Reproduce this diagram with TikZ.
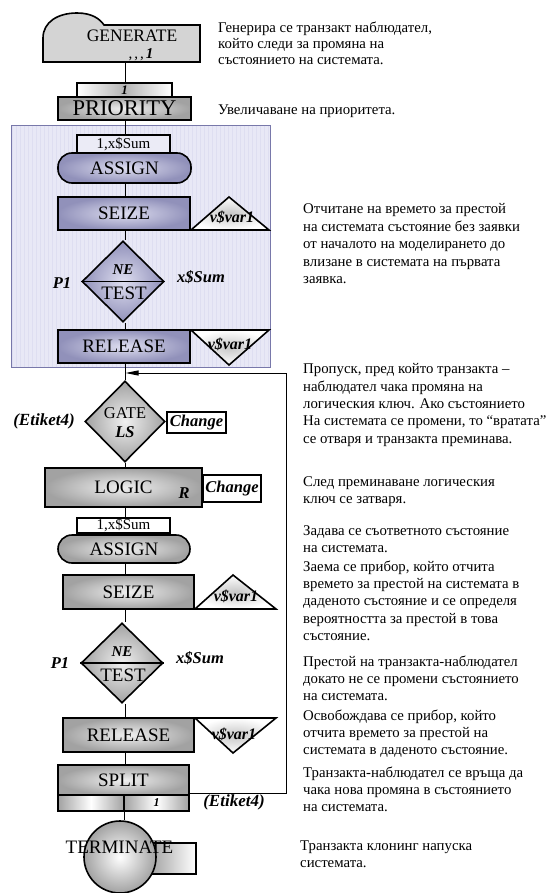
\documentclass[tikz,border=0pt]{standalone}
\usepackage{fontspec}
\setmainfont{Liberation Serif}
\usetikzlibrary{shapes.geometric,arrows.meta}
\definecolor{bluefill}{RGB}{232,232,246}
\definecolor{bluegrid}{RGB}{222,222,241}
\definecolor{blueedge}{RGB}{120,120,170}
\definecolor{bluedark}{RGB}{145,145,186}
\definecolor{bluelight}{RGB}{222,222,240}
\definecolor{graydark}{RGB}{162,162,162}
\definecolor{graylight}{RGB}{240,240,240}
\definecolor{genfill}{RGB}{212,212,212}
\tikzset{
  box/.style={draw, line width=1.6pt, inner sep=0pt, anchor=center},
  graybox/.style={box, inner color=graylight, outer color=graydark},
  bluebox/.style={box, inner color=bluelight, outer color=bluedark},
  whitebox/.style={box, line width=1.3pt, fill=white},
  dia/.style={diamond, draw, line width=1.6pt, inner sep=0pt, minimum width=82pt, minimum height=81pt},
  big/.style={font=\fontsize{19}{19}\selectfont},
  bi/.style={inner sep=0pt, font=\fontsize{16.5}{16.5}\selectfont\bfseries\itshape},
  vlbl/.style={inner sep=0pt, font=\fontsize{16}{16}\selectfont\bfseries\itshape},
  smalllbl/.style={font=\fontsize{15}{15}\selectfont},
  desc/.style={anchor=north west, inner sep=0pt, align=left, font=\fontsize{14.8}{17.3}\selectfont},
  conn/.style={line width=1pt},
  tri/.style={draw, line width=1.6pt, inner color=graydark!60, outer color=white},
}
\begin{document}
\begin{tikzpicture}[x=1pt,y=-1pt]
\useasboundingbox (0,0) rectangle (553,893);

% blue region
\fill[bluefill] (11,126) rectangle (270,367);
\draw[bluegrid, line width=0.4pt, step=4] (11,126) grid (270,367);
\draw[blueedge, line width=1pt] (11,126) rectangle (270,367);

% GENERATE
\draw[line width=1.6pt, fill=genfill] (43,62) -- (43,38) .. controls (43,22) and (58,13) .. (77,13)
  .. controls (92,13) and (100,19) .. (104,25) -- (200,25) -- (200,62) -- cycle;
\node[inner sep=0pt, font=\fontsize{17.5}{17.5}\selectfont] (gen) at (132,36) {GENERATE};
\node[inner sep=0pt, font=\fontsize{15}{15}\selectfont] (genv) at (141,55) {,\kern2pt,\kern2pt,\kern2pt\textbf{\textit{1}}};
\coordinate (genB) at (125,62);

% 1 box and PRIORITY
\node[box, line width=1.3pt, left color=white, right color=white, middle color=graydark!80, minimum width=95pt, minimum height=14pt, font=\fontsize{13}{13}\selectfont\bfseries\itshape] (one) at (124.5,90) {1};
\node[graybox, line width=2pt, minimum width=133pt, minimum height=23pt, font=\fontsize{22.5}{22.5}\selectfont] (prio) at (124.5,108.5) {PRIORITY};

% first group (in blue region)
\node[box, line width=1.3pt, fill=bluelight!60, minimum width=93pt, minimum height=18pt, smalllbl] (sum1) at (123.5,144) {1,x\$Sum};
\node[bluebox, rounded corners=14pt, minimum width=133pt, minimum height=30pt, big] (as1) at (124.5,168) {ASSIGN};
\node[bluebox, minimum width=132pt, minimum height=33pt, big] (se1) at (124,213.5) {SEIZE};
\draw[tri] (191,230) -- (229,197) -- (269,230) -- cycle;
\node[vlbl] (v1) at (232,217) {v\$var1};
\node[dia, inner color=bluelight, outer color=bluedark] (t1) at (123,281.5) {};
\draw[line width=1.3pt] (t1.west) -- (t1.east);
\node[inner sep=0pt, font=\fontsize{15}{15}\selectfont\bfseries\itshape] (ne1) at (123,270) {NE};
\node[inner sep=0pt, big] (tt1) at (124,293) {TEST};
\node[bi] (p1a) at (62,283) {P1};
\node[bi] (xs1) at (201,277) {x\$Sum};
\node[bluebox, minimum width=132pt, minimum height=33pt, big] (re1) at (124,346.5) {RELEASE};
\draw[tri] (191,330) -- (269,330) -- (229,365) -- cycle;
\node[vlbl] (v2) at (230,344) {v\$var1};

% GATE
\node[dia, minimum width=80pt, inner color=graylight, outer color=graydark] (gate) at (125,421.5) {};
\node[inner sep=0pt, font=\fontsize{16.5}{16.5}\selectfont] (gateT) at (125,413) {GATE};
\node[bi] (ls) at (125,432) {LS};
\node[bi, font=\fontsize{17}{17}\selectfont\bfseries\itshape] (et1) at (44,421) {(Etiket4)};
\node[whitebox, minimum width=59pt, minimum height=21pt, font=\fontsize{16.5}{16.5}\selectfont\bfseries\itshape] (ch1) at (196.5,422.5) {Change};

% LOGIC
\node[graybox, minimum width=157pt, minimum height=39pt, big] (logic) at (123.5,487.5) {LOGIC};
\node[bi] (r) at (184,493) {R};
\node[whitebox, minimum width=58pt, minimum height=27pt, font=\fontsize{16.5}{16.5}\selectfont\bfseries\itshape] (ch2) at (232,488.5) {Change};

% second group
\node[box, line width=1.3pt, fill=white, minimum width=93pt, minimum height=15pt, smalllbl] (sum2) at (123.5,525.5) {1,x\$Sum};
\node[graybox, rounded corners=14pt, minimum width=132pt, minimum height=28pt, big] (as2) at (124,549) {ASSIGN};
\node[graybox, minimum width=131pt, minimum height=34pt, big] (se2) at (128.5,592) {SEIZE};
\draw[tri] (195,609) -- (233,575) -- (276,609) -- cycle;
\node[vlbl] (v3) at (236,596) {v\$var1};
\node[dia, minimum height=80pt, inner color=graylight, outer color=graydark] (t2) at (122,663) {};
\draw[line width=1.3pt] (t2.west) -- (t2.east);
\node[inner sep=0pt, font=\fontsize{15}{15}\selectfont\bfseries\itshape] (ne2) at (122,652) {NE};
\node[inner sep=0pt, big] (tt2) at (123,675) {TEST};
\node[bi] (p1b) at (60,663) {P1};
\node[bi] (xs2) at (200,658) {x\$Sum};
\node[graybox, minimum width=131pt, minimum height=34pt, big] (re2) at (128.5,735) {RELEASE};
\draw[tri] (195,718) -- (276,718) -- (233,753) -- cycle;
\node[vlbl] (v4) at (234,734) {v\$var1};

% SPLIT
\node[graybox, minimum width=131pt, minimum height=30pt, big] (split) at (123.5,780) {SPLIT};
\node[box, line width=1.6pt, left color=graydark, right color=graydark, middle color=white, minimum width=66pt, minimum height=16pt] (sa) at (91,803) {};
\node[box, line width=1.6pt, left color=graydark, right color=graydark, middle color=white, minimum width=65pt, minimum height=16pt, font=\fontsize{12}{12}\selectfont\bfseries\itshape] (sb) at (156.5,803) {1};
\node[bi, font=\fontsize{17}{17}\selectfont\bfseries\itshape] (et2) at (234,802) {(Etiket4)};
\coordinate (retS) at (189,793);
\coordinate (retR) at (286,793);
\coordinate (retT) at (286,373);
\coordinate (arrE) at (125.5,373);

% TERMINATE
\draw[line width=1.6pt, left color=graydark, right color=white] (150,843) rectangle (196,874);
\node[circle, draw, line width=1.6pt, minimum size=72pt, inner sep=0pt, inner color=white, outer color=graydark] (term) at (120,857) {};
\node[inner sep=0pt, big] (termT) at (119.5,847) {TERMINATE};

% connectors
\draw[conn] (genB) -- (genB |- one.north);
\draw[conn] (125,120) -- (125,135);
\draw[conn] (as1.south -| 125,0) -- (se1.north -| 125,0);
\draw[conn] (125,230) -- (t1.north -| 125,0);
\draw[conn] (t1.south -| 125,0) -- (re1.north -| 125,0);
\draw[conn] (re1.south -| 125,0) -- (gate.north);
\draw[conn] (gate.south) -- (logic.north -| 125,0);
\draw[conn] (logic.south -| 125,0) -- (sum2.north -| 125,0);
\draw[conn] (as2.south -| 125,0) -- (se2.north -| 125,0);
\draw[conn] (se2.south -| 125,0) -- (t2.north -| 125,0);
\draw[conn] (t2.south -| 125,0) -- (re2.north -| 125,0);
\draw[conn] (re2.south -| 125,0) -- (split.north -| 125,0);
\draw[conn] (124,811) -- (term.north -| 124,0);
\draw[conn, -{Triangle[length=13pt,width=5pt]}] (retS) -- (retR) -- (retT) -- (arrE);

% descriptions
\node[desc, font=\fontsize{14.8}{16}\selectfont] (d1) at (218,21.5) {Генерира се транзакт наблюдател,\\който следи за промяна на\\състоянието на системата.};
\node[desc] (d2) at (218,104.5) {Увеличаване на приоритета.};
\node[desc, font=\fontsize{14.8}{17.5}\selectfont] (d3) at (303,203.5) {Отчитане на времето за престой\\на системата състояние без заявки\\от началото на моделирането до\\влизане в системата на първата\\заявка.};
\node[desc] (d4) at (303,363.5) {Пропуск, пред който транзакта –\\наблюдател чака промяна на\\логическия ключ. Ако състоянието\\На системата се промени, то “вратата”\\се отваря и транзакта преминава.};
\node[desc] (d5) at (303,476.5) {След преминаване логическия\\ключ се затваря.};
\node[desc] (d6) at (303,525.5) {Задава се съответното състояние\\на системата.};
\node[desc] (d7) at (303,560.5) {Заема се прибор, който отчита\\времето за престой на системата в\\даденото състояние и се определя\\вероятността за престой в това\\състояние.};
\node[desc] (d8) at (303,655.5) {Престой на транзакта-наблюдател\\докато не се промени състоянието\\на системата.};
\node[desc] (d9) at (303,709.5) {Освобождава се прибор, който\\отчита времето за престой на\\системата в даденото състояние.};
\node[desc] (d10) at (303,766.5) {Транзакта-наблюдател се връща да\\чака нова промяна в състоянието\\на системата.};
\node[desc] (d11) at (300,840.5) {Транзакта клонинг напуска\\системата.};
\end{tikzpicture}
\end{document}
